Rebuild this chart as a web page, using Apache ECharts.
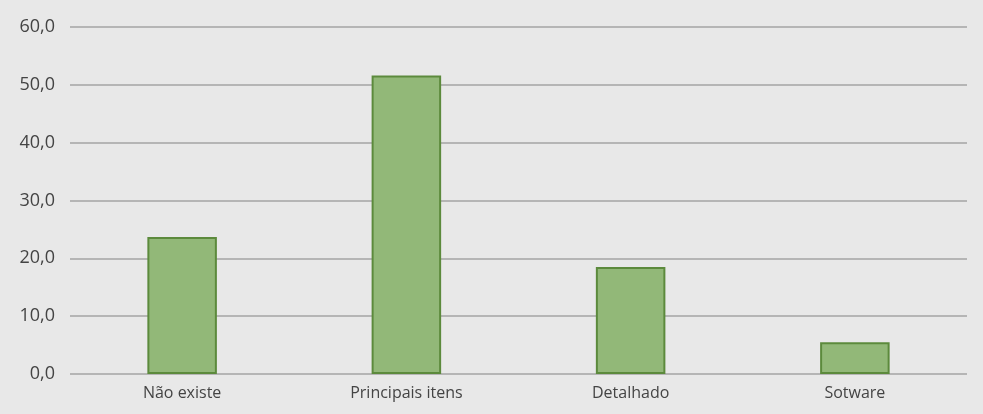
<!DOCTYPE html>
<html>
<head>
<meta charset="utf-8">
<script src="https://cdn.jsdelivr.net/npm/echarts@6/dist/echarts.min.js"></script>
<style>
html,body{margin:0;padding:0;background:#e8e8e8;}
#chart{width:983px;height:414px;}
</style>
</head>
<body>
<div id="chart"></div>
<script>
// Categories and values (percent)
const categories = ['Não existe', 'Principais itens', 'Detalhado', 'Sotware'];
const values = [23.7, 51.6, 18.5, 5.5];

const chart = echarts.init(document.getElementById('chart'));
chart.setOption({
  backgroundColor: '#e8e8e8',
  animation: false,
  grid: { left: 70, right: 16, top: 27, bottom: 40 },
  xAxis: {
    type: 'category',
    data: categories,
    axisLine: { show: false },
    axisTick: { show: false },
    axisLabel: {
      color: '#444',
      fontFamily: 'Open Sans',
      fontSize: 16,
      margin: 11
    }
  },
  yAxis: {
    type: 'value',
    min: 0,
    max: 60,
    interval: 10,
    axisLine: { show: false },
    axisTick: { show: false },
    axisLabel: {
      color: '#444',
      fontFamily: 'Open Sans',
      fontSize: 18,
      margin: 15,
      formatter: v => v.toFixed(1).replace('.', ',')
    },
    splitLine: { lineStyle: { color: '#b5b5b5', width: 2 } }
  },
  series: [{
    type: 'bar',
    data: values,
    barWidth: '31%',
    itemStyle: {
      color: '#92b878',
      borderColor: '#5c8a3c',
      borderWidth: 2
    }
  }]
});
</script>
</body>
</html>
